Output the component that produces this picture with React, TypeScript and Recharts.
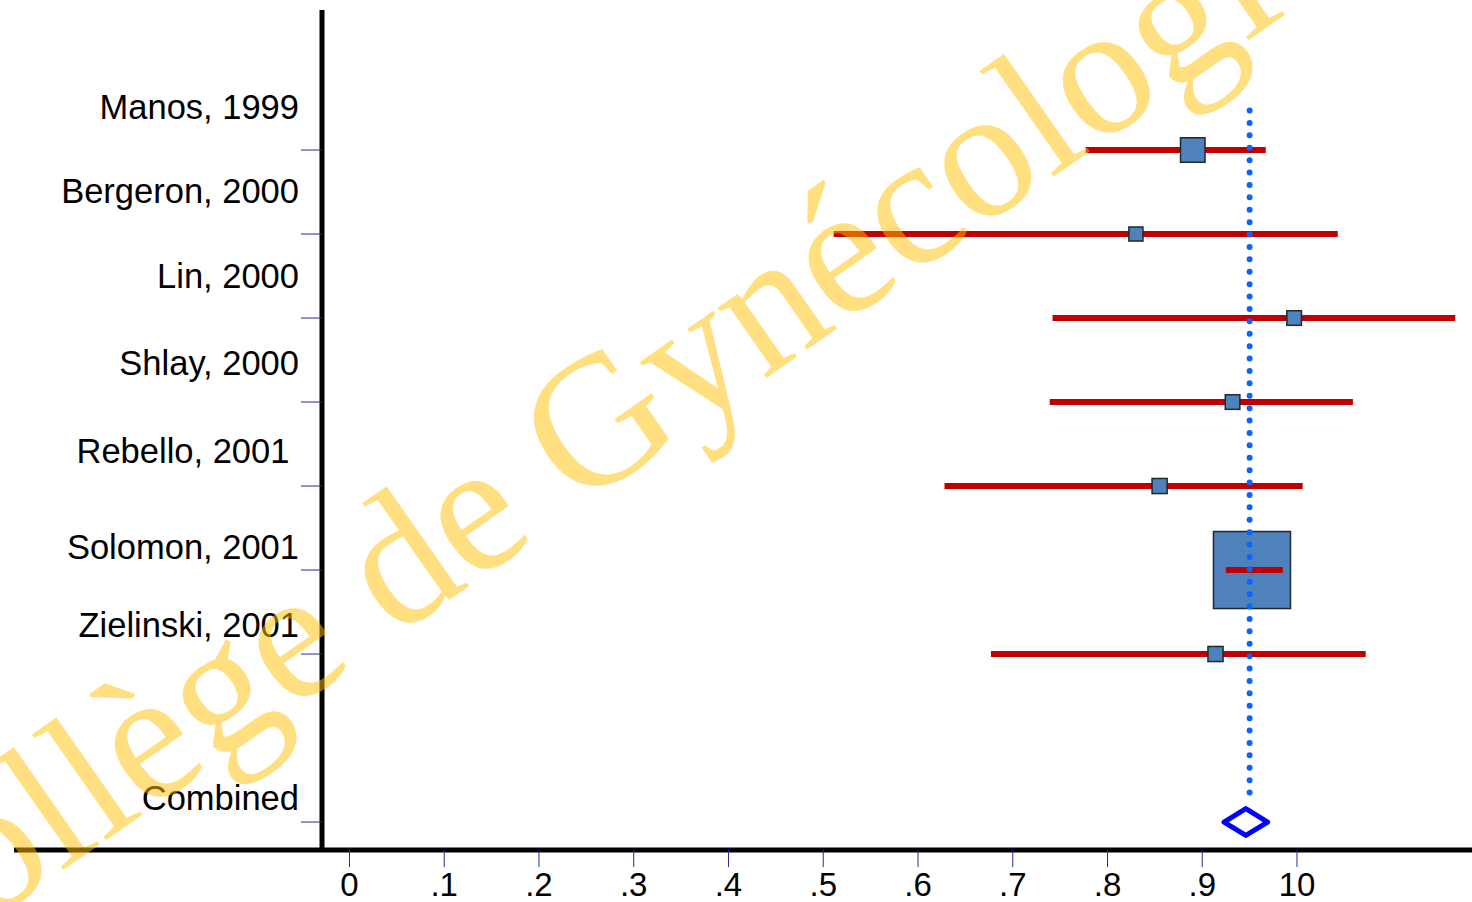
import React from "react";
import { ScatterChart, Scatter, XAxis, YAxis, ReferenceLine } from "recharts";

// study rows (top to bottom)
const studies = [
  "Manos, 1999",
  "Bergeron, 2000",
  "Lin, 2000",
  "Shlay, 2000",
  "Rebello, 2001 ",
  "Solomon, 2001",
  "Zielinski, 2001",
];
const studyRows = [1, 2, 3, 4, 5, 6, 7];
const estimates = [0.89, 0.83, 0.997, 0.932, 0.855, 0.9525, 0.914];
const lowerCI = [0.777, 0.511, 0.742, 0.739, 0.628, 0.925, 0.677];
const upperCI = [0.967, 1.043, 1.167, 1.059, 1.006, 0.985, 1.0725];
const weights = [7.9, 2.6, 2.8, 2.8, 3.0, 78.0, 3.0];

const combinedLabel = "Combined";
const combinedRow = 9;
const combinedEstimate = 0.946;
const combinedLower = 0.923;
const combinedUpper = 0.969;
const overallLine = 0.95;
const overallLineSpan = [0.53, 8.67];

const xTicks = [0, 0.1, 0.2, 0.3, 0.4, 0.5, 0.6, 0.7, 0.8, 0.9, 1];
const xTickLabels = ["0", ".1", ".2", ".3", ".4", ".5", ".6", ".7", ".8", ".9", "10"];

// layout
const X_DOMAIN: [number, number] = [-0.029, 1.1847];
const Y_DOMAIN: [number, number] = [-0.667, 9.333];
const AXIS_LEFT_END = -0.354;
const BOX_SCALE = 8.72;
const DIAMOND_HALF = 0.16;
const LABEL_SHIFT: Record<number, number> = { 1: -31, 2: -31, 3: -30, 4: -27, 5: -23, 6: -11, 7: -17, 9: -12 };

const RED = "#c00000";
const FONT = "'Liberation Sans', Arial, sans-serif";

const rowLabels: Record<number, string> = {};
studyRows.forEach((r, i) => (rowLabels[r] = studies[i]));
rowLabels[combinedRow] = combinedLabel;

const boxData = studies.map((name, i) => ({ name, x: estimates[i], y: studyRows[i], w: weights[i] }));
const ciData = studies.map((_, i) => [
  { x: lowerCI[i], y: studyRows[i] },
  { x: upperCI[i], y: studyRows[i] },
]);
// CI lines that sit inside their box are drawn again on top of it
const innerCI = ciData.filter((_, i) => upperCI[i] - lowerCI[i] < 0.1);
const overallData = [
  { x: overallLine, y: overallLineSpan[0] },
  { x: overallLine, y: overallLineSpan[1] },
];
const diamondData = [
  { x: combinedLower, y: combinedRow },
  { x: combinedEstimate, y: combinedRow - DIAMOND_HALF },
  { x: combinedUpper, y: combinedRow },
  { x: combinedEstimate, y: combinedRow + DIAMOND_HALF },
  { x: combinedLower, y: combinedRow },
];

const Nothing = () => <g />;

const Box = (props: any) => {
  const { cx, cy, payload } = props;
  const s = BOX_SCALE * Math.sqrt(payload.w);
  return (
    <rect x={cx - s / 2} y={cy - s / 2} width={s} height={s} fill="#4f81bd" stroke="#1c2b2b" strokeWidth={1.5} />
  );
};

const RowLabel = (props: any) => {
  const { x, y, payload } = props;
  const v = payload.value;
  return (
    <text
      x={x}
      y={y + (LABEL_SHIFT[v] ?? -20)}
      textAnchor="end"
      fontSize={34.5}
      fontFamily={FONT}
      fill="#000"
      style={{ whiteSpace: "pre" }}
    >
      {rowLabels[v]}
    </text>
  );
};

export default function App() {
  return (
    <div style={{ position: "absolute", left: 0, top: 0, width: 1472, height: 902, background: "#fff" }}>
      <ScatterChart width={1472} height={902} margin={{ top: 10, right: 0, bottom: 0, left: 0 }}>
        <XAxis
          type="number"
          dataKey="x"
          domain={X_DOMAIN}
          allowDataOverflow
          ticks={xTicks}
          interval={0}
          tickFormatter={(v: number, i: number) => xTickLabels[i]}
          height={52}
          tickSize={17}
          tickMargin={6}
          axisLine={{ stroke: "#000", strokeWidth: 5 }}
          tickLine={{ stroke: "#2b2b99", strokeWidth: 1 }}
          tick={{ fill: "#000", fontSize: 33, fontFamily: FONT }}
        />
        <YAxis
          type="number"
          dataKey="y"
          domain={Y_DOMAIN}
          allowDataOverflow
          reversed
          ticks={[...studyRows, combinedRow]}
          interval={0}
          width={322}
          tickSize={21}
          axisLine={{ stroke: "#000", strokeWidth: 5 }}
          tickLine={{ stroke: "#2b2b99", strokeWidth: 1 }}
          tick={<RowLabel />}
        />
        <ReferenceLine
          segment={[
            { x: AXIS_LEFT_END, y: Y_DOMAIN[1] },
            { x: X_DOMAIN[0], y: Y_DOMAIN[1] },
          ]}
          stroke="#000"
          strokeWidth={5}
          ifOverflow="visible"
        />
        {ciData.map((seg, i) => (
          <Scatter key={"ci" + i} data={seg} line={{ stroke: RED, strokeWidth: 6 }} shape={Nothing} isAnimationActive={false} />
        ))}
        <Scatter data={boxData} shape={Box} isAnimationActive={false} />
        {innerCI.map((seg, i) => (
          <Scatter key={"in" + i} data={seg} line={{ stroke: RED, strokeWidth: 6 }} shape={Nothing} isAnimationActive={false} />
        ))}
        <Scatter
          data={overallData}
          line={{ stroke: "#0a64ff", strokeWidth: 6, strokeDasharray: "0 12.4", strokeLinecap: "round" }}
          shape={Nothing}
          isAnimationActive={false}
        />
        <Scatter
          data={diamondData}
          line={{ stroke: "#0000ff", strokeWidth: 5, strokeLinejoin: "round", strokeLinecap: "round" }}
          shape={Nothing}
          isAnimationActive={false}
        />
      </ScatterChart>
      <svg width={1472} height={902} style={{ position: "absolute", left: 0, top: 0, pointerEvents: "none" }}>
        <text
          x={619}
          y={481}
          textAnchor="middle"
          fontSize={186}
          fontFamily="'Liberation Serif', 'Times New Roman', serif"
          fill="#ffc000"
          fillOpacity={0.5}
          transform="rotate(-35 619 481)"
        >
          Collège de Gynécologie
        </text>
      </svg>
    </div>
  );
}
